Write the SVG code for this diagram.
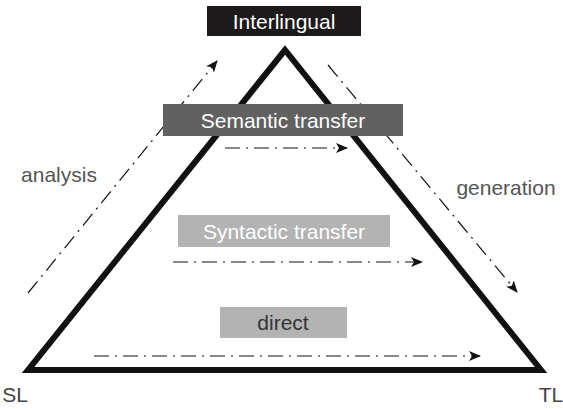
<svg xmlns="http://www.w3.org/2000/svg" width="563" height="409" viewBox="0 0 563 409">
<style>
text{font-family:"Liberation Sans",Arial,sans-serif;font-size:21px;text-anchor:middle}
.flow{fill:none;stroke:#111;stroke-width:1.2;stroke-dasharray:15 6 2 6;marker-end:url(#ah)}
.lbl{fill:#555}
</style>
<defs>
<marker id="ah" viewBox="0 0 12 10" refX="11" refY="5" markerWidth="12" markerHeight="10" markerUnits="userSpaceOnUse" orient="auto">
<path d="M0,0 L12,5 L0,10 L3,5 Z" fill="#111"/>
</marker>
</defs>
<rect width="563" height="409" fill="#fff"/>
<g id="triangle">
<polygon points="285,50 28,370 541,370" fill="none" stroke="#111" stroke-width="6" stroke-linejoin="miter"/>
</g>
<g id="connectors">
<line class="flow" x1="28" y1="293" x2="217" y2="61"/>
<line class="flow" x1="328" y1="65" x2="517" y2="292"/>
<line class="flow" x1="225" y1="148" x2="347" y2="148"/>
<line class="flow" x1="173" y1="262" x2="422" y2="262"/>
<line class="flow" x1="94" y1="356" x2="480" y2="356"/>
</g>
<g id="interlingual">
<rect x="207" y="6" width="154" height="30" fill="#1c1a1a"/>
<text x="284" y="28.5" fill="#fff">Interlingual</text>
</g>
<g id="semantic">
<rect x="163" y="104" width="240" height="32" fill="#616161"/>
<text x="283" y="127.5" fill="#fff">Semantic transfer</text>
</g>
<g id="syntactic">
<rect x="178" y="215" width="212" height="32" fill="#b3b3b3"/>
<text x="284" y="238.5" fill="#fff">Syntactic transfer</text>
</g>
<g id="direct">
<rect x="220" y="307" width="127" height="31" fill="#b3b3b3"/>
<text x="283" y="330" fill="#333">direct</text>
</g>
<g id="analysis"><text class="lbl" x="59" y="182">analysis</text></g>
<g id="generation"><text class="lbl" x="506" y="195">generation</text></g>
<g id="sl"><text x="15" y="402" fill="#444">SL</text></g>
<g id="tl"><text x="551" y="402" fill="#444">TL</text></g>
</svg>
